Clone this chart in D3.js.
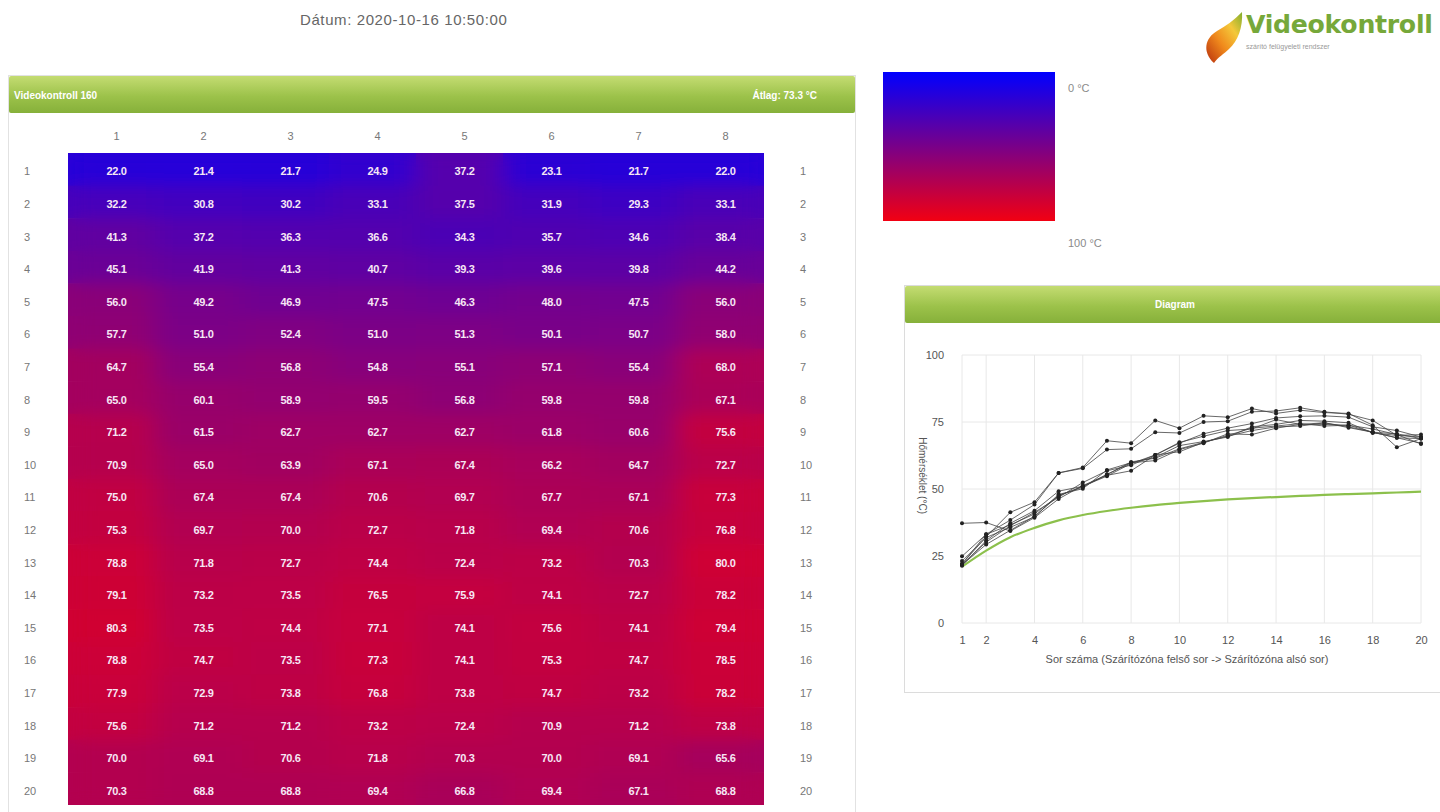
<!DOCTYPE html>
<html>
<head>
<meta charset="utf-8">
<script src="https://cdn.jsdelivr.net/npm/d3@7"></script>
<style>
  html, body { margin: 0; padding: 0; background: #fff; }
  svg { display: block; font-family: "Liberation Sans", Arial, sans-serif; }
</style>
</head>
<body>
<svg id="page" width="1440" height="812"></svg>
<script>
// Sensor grid: 20 rows (top to bottom of the drying zone) x 8 columns, °C
const columns = [1, 2, 3, 4, 5, 6, 7, 8];
const rowsIdx = d3.range(1, 21);
const temps = [
  [22.0, 21.4, 21.7, 24.9, 37.2, 23.1, 21.7, 22.0],
  [32.2, 30.8, 30.2, 33.1, 37.5, 31.9, 29.3, 33.1],
  [41.3, 37.2, 36.3, 36.6, 34.3, 35.7, 34.6, 38.4],
  [45.1, 41.9, 41.3, 40.7, 39.3, 39.6, 39.8, 44.2],
  [56.0, 49.2, 46.9, 47.5, 46.3, 48.0, 47.5, 56.0],
  [57.7, 51.0, 52.4, 51.0, 51.3, 50.1, 50.7, 58.0],
  [64.7, 55.4, 56.8, 54.8, 55.1, 57.1, 55.4, 68.0],
  [65.0, 60.1, 58.9, 59.5, 56.8, 59.8, 59.8, 67.1],
  [71.2, 61.5, 62.7, 62.7, 62.7, 61.8, 60.6, 75.6],
  [70.9, 65.0, 63.9, 67.1, 67.4, 66.2, 64.7, 72.7],
  [75.0, 67.4, 67.4, 70.6, 69.7, 67.7, 67.1, 77.3],
  [75.3, 69.7, 70.0, 72.7, 71.8, 69.4, 70.6, 76.8],
  [78.8, 71.8, 72.7, 74.4, 72.4, 73.2, 70.3, 80.0],
  [79.1, 73.2, 73.5, 76.5, 75.9, 74.1, 72.7, 78.2],
  [80.3, 73.5, 74.4, 77.1, 74.1, 75.6, 74.1, 79.4],
  [78.8, 74.7, 73.5, 77.3, 74.1, 75.3, 74.7, 78.5],
  [77.9, 72.9, 73.8, 76.8, 73.8, 74.7, 73.2, 78.2],
  [75.6, 71.2, 71.2, 73.2, 72.4, 70.9, 71.2, 73.8],
  [70.0, 69.1, 70.6, 71.8, 70.3, 70.0, 69.1, 65.6],
  [70.3, 68.8, 68.8, 69.4, 66.8, 69.4, 67.1, 68.8]
];
// Reference drying curve (green line in the diagram)
const referenceCurve = [21, 27, 32, 35.5, 38.3, 40.3, 41.8, 43, 44, 44.8,
                        45.5, 46.1, 46.6, 47.0, 47.4, 47.8, 48.1, 48.4, 48.7, 49.0];
const xTicks = [1, 2, 4, 6, 8, 10, 12, 14, 16, 18, 20];
const yTicks = [0, 25, 50, 75, 100];
const legendStops = [0, 100];

const dateText = "Dátum: 2020-10-16 10:50:00";
const panelTitle = "Videokontroll 160";
const averageText = "Átlag: 73.3 °C";

const svg = d3.select("#page");
const defs = svg.append("defs");

// blue -> red temperature ramp (saturates slightly inside the 0–100 range)
const color = d3.scaleLinear().domain([8, 92]).range(["#0000ff", "#f20012"])
  .interpolate(d3.interpolateRgb).clamp(true);

// green header gradient
const hg = defs.append("linearGradient").attr("id", "hdr").attr("x1", 0).attr("y1", 0).attr("x2", 0).attr("y2", 1);
hg.append("stop").attr("offset", "0%").attr("stop-color", "#c4dc72");
hg.append("stop").attr("offset", "55%").attr("stop-color", "#9cc24a");
hg.append("stop").attr("offset", "100%").attr("stop-color", "#86b03a");

// ---------- header: date + logo ----------
svg.append("text").attr("x", 300).attr("y", 25).attr("fill", "#666").attr("font-size", 15)
  .attr("letter-spacing", 0.6).text(dateText);

const lg = defs.append("linearGradient").attr("id", "flame").attr("x1", 0).attr("y1", 1).attr("x2", 1).attr("y2", 0);
lg.append("stop").attr("offset", "0%").attr("stop-color", "#b8300e");
lg.append("stop").attr("offset", "40%").attr("stop-color", "#f08a1c");
lg.append("stop").attr("offset", "70%").attr("stop-color", "#f4c83a");
lg.append("stop").attr("offset", "100%").attr("stop-color", "#7fae2e");
svg.append("path")
  .attr("d", "M1214,63 C1202,52 1205,38 1217,31 C1226,26 1234,20 1242,12 C1243,27 1238,41 1229,49 C1224,54 1218,57 1214,63 Z")
  .attr("fill", "url(#flame)");
svg.append("text").attr("x", 1246).attr("y", 33).attr("fill", "#76a83a").attr("font-size", 25.2)
  .attr("font-family", "'DejaVu Sans', sans-serif")
  .attr("font-weight", "bold").attr("letter-spacing", -0.3).text("Videokontroll");
svg.append("text").attr("x", 1246).attr("y", 49).attr("fill", "#999").attr("font-size", 7)
  .text("szárító felügyeleti rendszer");

// ---------- left panel: heat map table ----------
const panel = svg.append("g");
panel.append("rect").attr("x", 8.5).attr("y", 75.5).attr("width", 847).attr("height", 760)
  .attr("fill", "#fff").attr("stroke", "#e2e2e2");
panel.append("rect").attr("x", 9).attr("y", 76).attr("width", 846).attr("height", 37)
  .attr("rx", 2).attr("fill", "url(#hdr)");
panel.append("text").attr("x", 14).attr("y", 99).attr("fill", "#fff").attr("font-size", 10)
  .attr("font-weight", "bold").text(panelTitle);
panel.append("text").attr("x", 817).attr("y", 99).attr("fill", "#fff").attr("font-size", 10)
  .attr("font-weight", "bold").attr("text-anchor", "end").text(averageText);

const xb = d3.scaleBand().domain(columns).range([68, 764]);
const yb = d3.scaleBand().domain(rowsIdx).range([153, 805]);

const cells = [];
temps.forEach((row, ri) => row.forEach((v, ci) => cells.push({ r: ri + 1, c: ci + 1, v })));

defs.append("clipPath").attr("id", "heatClip").append("rect")
  .attr("x", xb.range()[0]).attr("y", yb.range()[0])
  .attr("width", xb.range()[1] - xb.range()[0]).attr("height", yb.range()[1] - yb.range()[0]);
const blur = defs.append("filter").attr("id", "soft")
  .attr("x", "-5%").attr("y", "-5%").attr("width", "110%").attr("height", "110%");
blur.append("feGaussianBlur").attr("stdDeviation", "13 8");

const heat = panel.append("g").attr("clip-path", "url(#heatClip)");
// crisp base layer keeps edges saturated under the blurred layer
heat.append("g").selectAll("rect").data(cells).join("rect")
  .attr("x", d => xb(d.c)).attr("y", d => yb(d.r))
  .attr("width", xb.bandwidth() + 0.5).attr("height", yb.bandwidth() + 0.5)
  .attr("fill", d => color(d.v));
heat.append("g").attr("filter", "url(#soft)").selectAll("rect").data(cells).join("rect")
  .attr("x", d => xb(d.c)).attr("y", d => yb(d.r))
  .attr("width", xb.bandwidth() + 0.5).attr("height", yb.bandwidth() + 0.5)
  .attr("fill", d => color(d.v));

panel.append("g").selectAll("text").data(cells).join("text")
  .attr("x", d => xb(d.c) + xb.bandwidth() / 2 + 5).attr("y", d => yb(d.r) + yb.bandwidth() / 2 + 6)
  .attr("text-anchor", "middle").attr("font-size", 11).attr("font-weight", "bold")
  .attr("fill", "#f6e6f4").attr("letter-spacing", -0.3)
  .text(d => d.v.toFixed(1));

// column headings
panel.append("g").selectAll("text").data(columns).join("text")
  .attr("x", d => xb(d) + xb.bandwidth() / 2 + 5).attr("y", 140)
  .attr("text-anchor", "middle").attr("font-size", 11).attr("fill", "#777").text(d => d);
// row headings both sides
const rowLab = panel.append("g").attr("font-size", 11).attr("fill", "#777");
rowLab.selectAll("text.l").data(rowsIdx).join("text").attr("class", "l")
  .attr("x", 24).attr("y", d => yb(d) + yb.bandwidth() / 2 + 6).text(d => d);
rowLab.selectAll("text.r").data(rowsIdx).join("text").attr("class", "r")
  .attr("x", 800).attr("y", d => yb(d) + yb.bandwidth() / 2 + 6).text(d => d);

// ---------- colour legend ----------
const legGrad = defs.append("linearGradient").attr("id", "legGrad").attr("x1", 0).attr("y1", 0).attr("x2", 0).attr("y2", 1);
legendStops.forEach(s => legGrad.append("stop").attr("offset", s + "%").attr("stop-color", color(s)));
const legY = d3.scaleLinear().domain([0, 100]).range([72, 221]);
svg.append("rect").attr("x", 883).attr("y", legY(0)).attr("width", 172).attr("height", legY(100) - legY(0))
  .attr("fill", "url(#legGrad)");
svg.append("g").selectAll("text").data(legendStops).join("text")
  .attr("x", 1068).attr("y", (d, i) => i === 0 ? 92 : 247)
  .attr("font-size", 11).attr("fill", "#8a8a8a").text(d => d + " °C");

// ---------- diagram panel ----------
const dp = svg.append("g");
dp.append("rect").attr("x", 904.5).attr("y", 285.5).attr("width", 545).attr("height", 407)
  .attr("fill", "#fff").attr("stroke", "#dcdcdc");
dp.append("rect").attr("x", 905).attr("y", 286).attr("width", 545).attr("height", 37)
  .attr("rx", 2).attr("fill", "url(#hdr)");
dp.append("text").attr("x", 1175).attr("y", 308).attr("fill", "#fff").attr("font-size", 10)
  .attr("font-weight", "bold").attr("text-anchor", "middle").text("Diagram");

const x = d3.scaleLinear().domain([1, 20]).range([962, 1421]);
const y = d3.scaleLinear().domain([0, 100]).range([623, 355]);

const grid = dp.append("g").attr("stroke", "#e8e8e8").attr("stroke-width", 1);
grid.selectAll("line.v").data(xTicks).join("line").attr("class", "v")
  .attr("x1", d => x(d)).attr("x2", d => x(d)).attr("y1", y(100)).attr("y2", y(0));
grid.selectAll("line.h").data(yTicks).join("line").attr("class", "h")
  .attr("x1", x(1)).attr("x2", x(20)).attr("y1", d => y(d)).attr("y2", d => y(d));

const xAxis = dp.append("g").attr("transform", `translate(0,${y(0) + 5})`)
  .call(d3.axisBottom(x).tickValues(xTicks).tickSize(0).tickPadding(8));
const yAxis = dp.append("g").attr("transform", `translate(${x(1) - 14},0)`)
  .call(d3.axisLeft(y).tickValues(yTicks).tickSize(0).tickPadding(4));
[xAxis, yAxis].forEach(a => {
  a.select(".domain").remove();
  a.selectAll("text").attr("fill", "#555").attr("font-size", 11)
    .attr("font-family", "'Liberation Sans', Arial, sans-serif");
});

dp.append("text").attr("x", 1187).attr("y", 663).attr("text-anchor", "middle")
  .attr("font-size", 11).attr("fill", "#555")
  .text("Sor száma (Szárítózóna felső sor -> Szárítózóna alsó sor)");
dp.append("text").attr("transform", `translate(919,${y(55)}) rotate(90)`).attr("text-anchor", "middle")
  .attr("font-size", 10).attr("fill", "#555").text("Hőmérséklet (°C)");

// reference curve
const line = d3.line().x(d => x(d[0])).y(d => y(d[1])).curve(d3.curveMonotoneX);
dp.append("path").datum(referenceCurve.map((v, i) => [i + 1, v]))
  .attr("d", line).attr("fill", "none").attr("stroke", "#8cc04c").attr("stroke-width", 2.2);

// one series per column
const series = columns.map((c, ci) => temps.map((row, ri) => [ri + 1, row[ci]]));
const lineStraight = d3.line().x(d => x(d[0])).y(d => y(d[1]));
const sg = dp.append("g");
sg.selectAll("path").data(series).join("path")
  .attr("d", lineStraight).attr("fill", "none").attr("stroke", "#444").attr("stroke-width", 1)
  .attr("stroke-opacity", 0.8);
sg.selectAll("g").data(series).join("g").selectAll("circle").data(d => d).join("circle")
  .attr("cx", d => x(d[0])).attr("cy", d => y(d[1])).attr("r", 2).attr("fill", "#222");
</script>
</body>
</html>
